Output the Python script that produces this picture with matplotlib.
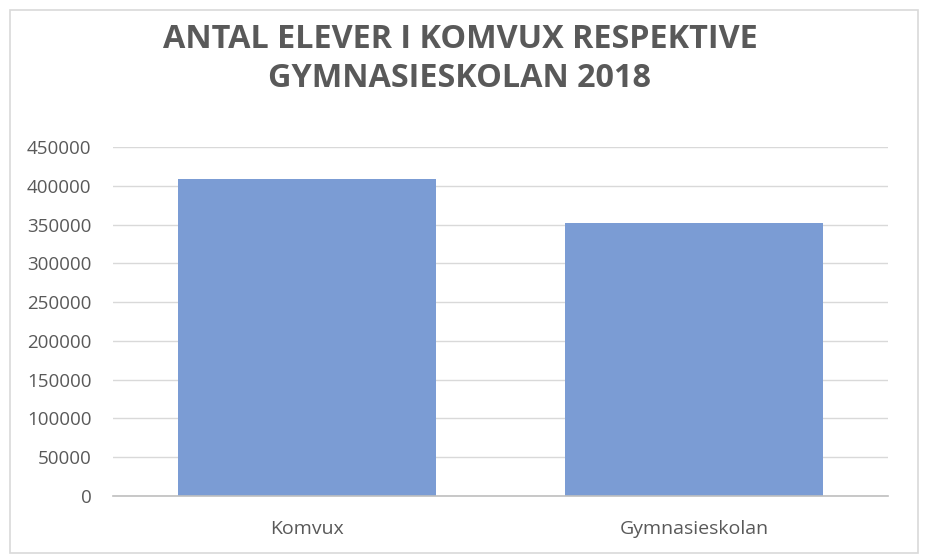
import numpy as np
import matplotlib.pyplot as plt
from matplotlib.patches import Rectangle

# data
kategorier = ["Komvux", "Gymnasieskolan"]
antal = [408600, 352600]
yticks = np.arange(0, 450001, 50000)

plt.rcParams['font.family'] = ['Open Sans', 'DejaVu Sans']
grå = "#595959"

fig = plt.figure(figsize=(9.29, 5.58), dpi=100)
ax = fig.add_axes([113/929, 1 - 496/558, 775/929, (496-147)/558])

x = np.arange(len(kategorier))
ax.bar(x, antal, width=0.666, color="#7B9CD4", zorder=3)
ax.set_xlim(-0.5, 1.5)
ax.set_ylim(0, 450000)
ax.set_yticks(yticks)
ax.set_yticklabels([str(v) for v in yticks], color=grå, fontsize=13.5)
ax.set_xticks(x)
ax.set_xticklabels(kategorier, color=grå, fontsize=14)
ax.tick_params(axis='both', length=0)
ax.tick_params(axis='y', pad=15.5)
ax.tick_params(axis='x', pad=17)
ax.grid(axis='y', color="#D9D9D9", linewidth=1, zorder=0)
for s in ["top", "right", "left"]:
    ax.spines[s].set_visible(False)
ax.spines["bottom"].set_color("#BFBFBF")
ax.spines["bottom"].set_linewidth(1.2)
ax.spines["bottom"].set_zorder(4)

fig.text(460/929, 1 - 39/558, "ANTAL ELEVER I KOMVUX RESPEKTIVE", ha="center", va="center",
         fontsize=23.3, fontweight="bold", color=grå)
fig.text(460/929, 1 - 79/558, "GYMNASIESKOLAN 2018", ha="center", va="center",
         fontsize=23.3, fontweight="bold", color=grå)

# ram runt hela diagrammet
fig.patches.append(Rectangle((10/929, 5/558), 908/929, 543/558, transform=fig.transFigure,
                             fill=False, edgecolor="#D9D9D9", linewidth=1.2))

fig.savefig("out.png", dpi=100)
